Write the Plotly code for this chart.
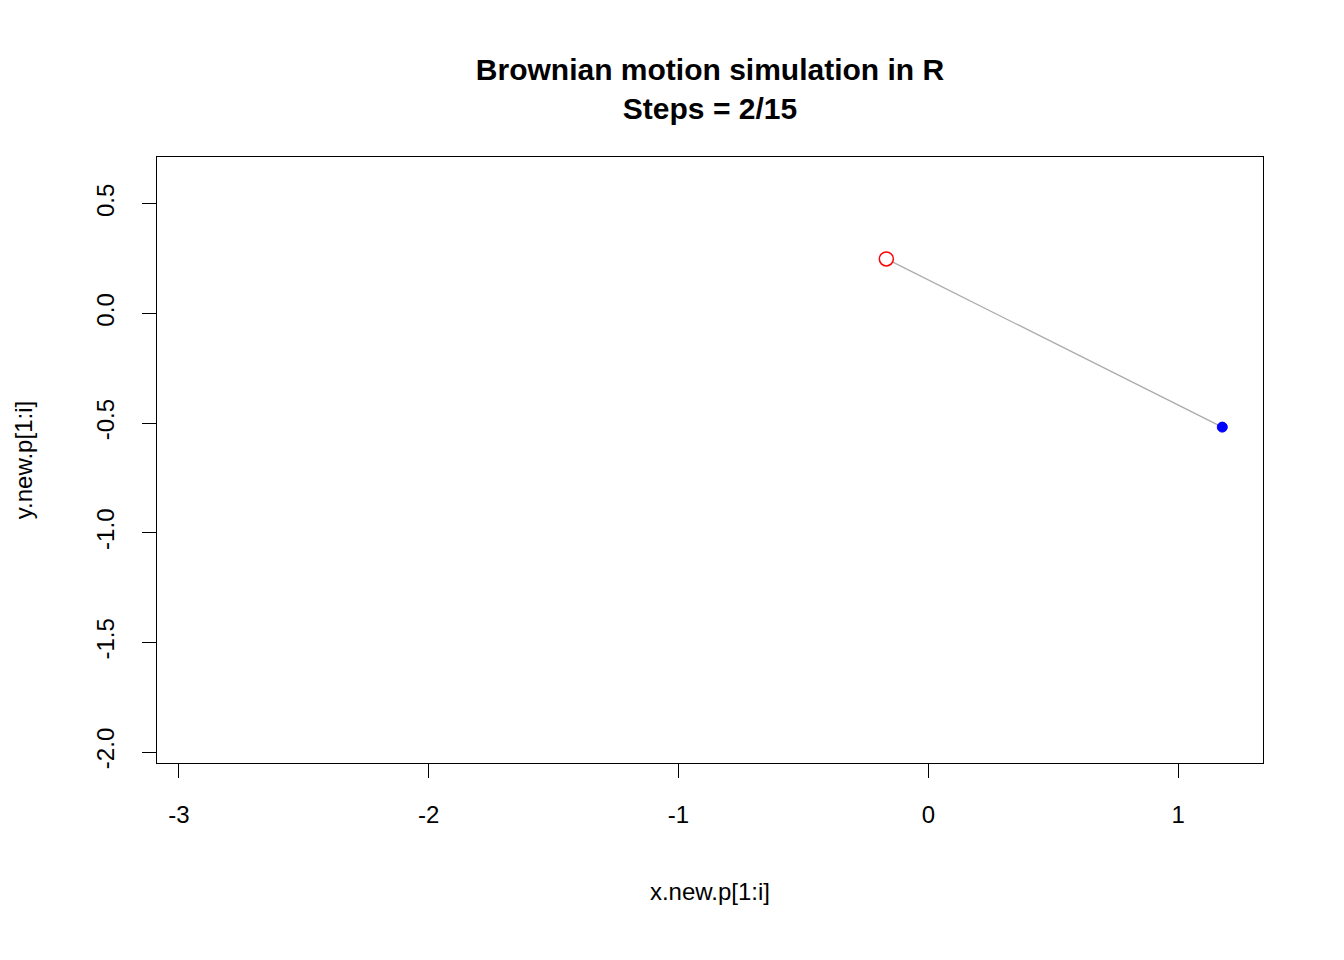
import plotly.graph_objects as go

x_vals = [-0.168, 1.177]
y_vals = [0.249, -0.518]
x_ticks = [-3, -2, -1, 0, 1]
y_ticks = [0.5, 0.0, -0.5, -1.0, -1.5, -2.0]

fig = go.Figure()
fig.add_trace(go.Scatter(x=x_vals, y=y_vals, mode="lines",
                         line=dict(color="#aaaaaa", width=1.3), showlegend=False))
fig.add_trace(go.Scatter(x=x_vals[:1], y=y_vals[:1], mode="markers",
                         marker=dict(size=14, color="white", line=dict(color="red", width=1.5)),
                         showlegend=False))
fig.add_trace(go.Scatter(x=x_vals[-1:], y=y_vals[-1:], mode="markers",
                         marker=dict(size=10, color="blue", line=dict(color="blue", width=1)),
                         showlegend=False))

font = dict(family="Liberation Sans, Arial, sans-serif", color="black")
fig.update_layout(
    width=1344, height=960, plot_bgcolor="white", paper_bgcolor="white",
    margin=dict(l=149, r=89, t=149, b=205),
    font=dict(size=24, **font),
    title=dict(text="<b>Brownian motion simulation in R<br>Steps = 2/15</b>",
               x=702 / 1344, xanchor="center",
               y=1 - 72 / 960, yanchor="middle", font=dict(size=30, **font)),
    xaxis=dict(range=[-3.088, 1.340], tickvals=x_ticks,
               ticktext=[str(t) for t in x_ticks],
               showgrid=False, zeroline=False, showline=True, mirror=True,
               linecolor="black", linewidth=1.3, ticks="outside", ticklen=14,
               tickwidth=1.3, tickcolor="black", ticklabelstandoff=16,
               title=dict(text="x.new.p[1:i]", standoff=56, font=dict(size=24))),
    yaxis=dict(range=[-2.050, 0.714], tickvals=y_ticks,
               ticktext=[f"{t:.1f}" for t in y_ticks], tickangle=-90,
               showgrid=False, zeroline=False, showline=True, mirror=True,
               linecolor="black", linewidth=1.3, ticks="outside", ticklen=14,
               tickwidth=1.3, tickcolor="black", ticklabelstandoff=18,
               title=dict(text="y.new.p[1:i]", standoff=52, font=dict(size=24))),
)
fig.write_html("out.html")
